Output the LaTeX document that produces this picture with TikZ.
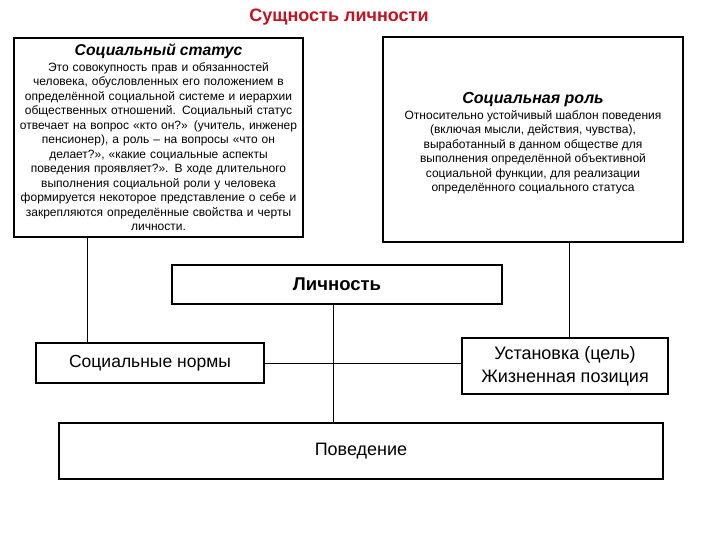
\documentclass[tikz,border=0pt]{standalone}
\usepackage{fontspec}
\setmainfont{Liberation Sans}
\usepackage{tikz}
\usetikzlibrary{positioning,calc}

\definecolor{titlered}{RGB}{196,18,32}

\begin{document}
\begin{tikzpicture}[x=1pt, y=-1pt,
  box/.style={draw, line width=1.1pt, rectangle, align=center, inner sep=2pt},
  link/.style={line width=0.8pt},
  bodytext/.style={font=\fontsize{12}{14.5}\selectfont}]

  \useasboundingbox (0,0) rectangle (720,540);

  % === Title ===
  \node[font=\fontsize{18}{20}\selectfont\bfseries, text=titlered] (title) at (339,17)
    {Сущность личности};

  % === Upper boxes: status and role ===
  \node[box, bodytext, minimum width=289pt, minimum height=199pt, text width=285pt]
    (status) at (158.5,137.5)
    {{\fontsize{15.7}{17}\selectfont\bfseries\itshape Социальный статус}\\[1pt]
     Это совокупность прав и обязанностей\\
     человека, обусловленных его положением в\\
     определённой социальной системе и иерархии\\
     общественных отношений. Социальный статус\\
     отвечает на вопрос «кто он?» (учитель, инженер\\
     пенсионер), а роль – на вопросы «что он\\
     делает?», «какие социальные аспекты\\
     поведения проявляет?». В ходе длительного\\
     выполнения социальной роли у человека\\
     формируется некоторое представление о себе и\\
     закрепляются определённые свойства и черты\\
     личности.};

  \node[box, bodytext, minimum width=300pt, minimum height=205pt, text width=296pt]
    (role) at (533,139.5)
    {};
  \node[bodytext, align=center] (roletext) at (533,143.5)
    {{\fontsize{16}{18}\selectfont\bfseries\itshape Социальная роль}\\[1pt]
     Относительно устойчивый шаблон поведения\\
     (включая мысли, действия, чувства),\\
     выработанный в данном обществе для\\
     выполнения определённой объективной\\
     социальной функции, для реализации\\
     определённого социального статуса};

  % === Middle and lower boxes ===
  \node[box, font=\fontsize{18.5}{20}\selectfont\bfseries, minimum width=330pt, minimum height=39pt]
    (lich) at (337,284.5) {Личность};
  \node[box, font=\fontsize{17.5}{22}\selectfont, minimum width=228pt, minimum height=40pt]
    (norms) at (150,363) {Социальные нормы};
  \node[box, font=\fontsize{18}{23}\selectfont, minimum width=206pt, minimum height=56pt]
    (ust) at (565,366) {Установка (цель)\\Жизненная позиция};
  \node[box, font=\fontsize{18}{20}\selectfont, minimum width=604pt, minimum height=56pt]
    (beh) at (361,451) {Поведение};

  % === Connectors ===
  \coordinate (xL) at (87,0);
  \coordinate (xR) at (569,0);
  \coordinate (xM) at (333,0);
  \draw[link] (status.south -| xL) -- (norms.north -| xL);
  \draw[link] (role.south -| xR) -- (ust.north -| xR);
  \draw[link] (lich.south -| xM) -- (beh.north -| xM);
  \draw[link] (norms.east) -- (norms.east -| ust.west);

\end{tikzpicture}
\end{document}
